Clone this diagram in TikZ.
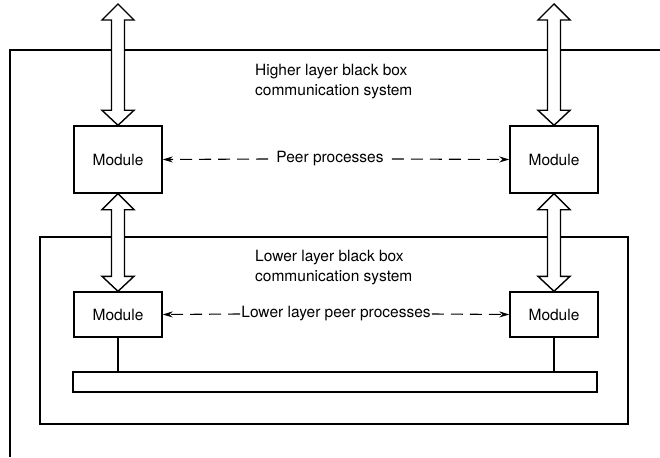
\documentclass[tikz,border=0pt]{standalone}
\usepackage{fontspec}
\setmainfont{TeX Gyre Heros}
\usetikzlibrary{arrows.meta,calc}
\tikzstyle{box} = [draw, line width=1.4pt, minimum width=88, inner sep=0pt, font=\fontsize{15.5}{20}\selectfont]
\tikzstyle{module} = [box, minimum height=67]
\tikzstyle{lowmodule} = [box, minimum height=45]
\tikzstyle{fat} = [draw, line width=1.4pt, fill=white, line join=miter]
\tikzstyle{peer} = [draw, line width=1.1pt, dash pattern=on 12pt off 7pt, -{Stealth[length=10pt,width=6pt]}]
\tikzstyle{txt} = [font=\fontsize{15.5}{20}\selectfont, align=left, inner sep=0pt]
% hollow double arrow from #1 (top tip) to #2 (bottom tip)
\newcommand{\fatarrow}[2]{%
  \draw[fat] (#1) -- ++(16,16) -- ++(-9.5,0) -- ($(#2)+(6.5,-15)$) -- ++(9.5,0)
    -- (#2) -- ++(-16,-15) -- ++(9.5,0) -- ($(#1)+(-6.5,16)$) -- ++(-9.5,0) -- cycle;}

\begin{document}
\begin{tikzpicture}[x=1pt,y=-1pt]
    \useasboundingbox (0,0) rectangle (660,457);

    % higher layer system (open to the right and below)
    \draw[line width=1.4pt] (660,50) -- (10,50) -- (10,457);
    \node[txt, anchor=west] (hightext) at (255,82) {Higher layer black box\\communication system};

    \node[module] (hm1) at (118,159.5) {Module};
    \node[module] (hm2) at (554,159.5) {Module};

    % lower layer system
    \node[draw, line width=1.4pt, minimum width=588, minimum height=187] (lowsys) at (334,330.5) {};
    \node[txt, anchor=west] (lowtext) at (255,268) {Lower layer black box\\communication system};

    \node[lowmodule] (lm1) at (118,314.5) {Module};
    \node[lowmodule] (lm2) at (554,314.5) {Module};

    \node[draw, line width=1.4pt, minimum width=524, minimum height=20] (bus) at (335,382) {};

    \coordinate (top1) at (118,4);
    \coordinate (top2) at (554,4);

    \fatarrow{top1}{hm1.north}
    \fatarrow{top2}{hm2.north}
    \fatarrow{hm1.south}{lm1.north}
    \fatarrow{hm2.south}{lm2.north}

    \node[txt, inner xsep=8pt] (peer) at (330,159) {Peer processes};
    \path [peer] (peer.west) -- (hm1.east);
    \path [peer] (peer.east) -- (hm2.west);

    \node[txt, inner xsep=1pt] (lowpeer) at (336,314) {Lower layer peer processes};
    \path [peer] (lowpeer.west) -- (lm1.east);
    \path [peer] (lowpeer.east) -- (lm2.west);

    \draw[line width=1.4pt] (lm1.south) -- (lm1.south |- bus.north);
    \draw[line width=1.4pt] (lm2.south) -- (lm2.south |- bus.north);

\end{tikzpicture}
\end{document}
